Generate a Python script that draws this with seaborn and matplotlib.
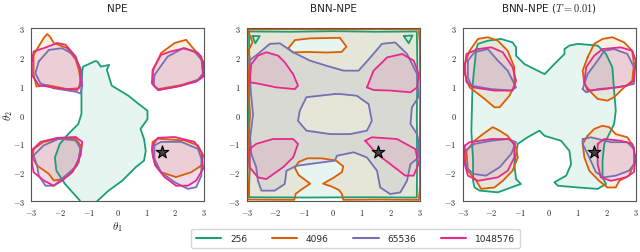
import matplotlib
matplotlib.use('Agg')
import matplotlib.pyplot as plt
from matplotlib.path import Path
from matplotlib.patches import PathPatch
from matplotlib.lines import Line2D
import numpy as np
import pandas as pd
import seaborn as sns

# ---- data: credible-region contours, (theta1, theta2) ----
sizes = ['256', '4096', '65536', '1048576']
titles = ['NPE', 'BNN-NPE', r'BNN-NPE ($T = 0.01$)']
ticks = [-3, -2, -1, 0, 1, 2, 3]
theta_star = (1.56, -1.31)

# NPE
npe_256 = [(-1.22, 1.55), (-1.19, 1.66), (-0.78, 1.85), (-0.70, 1.84), (-0.58, 1.66), (-0.29, 1.72),
           (-0.37, 1.55), (-0.20, 1.00), (0.38, 0.65), (0.74, 0.36), (1.04, 0.13), (1.04, -0.16),
           (0.80, -0.50), (0.92, -0.85), (0.98, -1.26), (0.92, -1.60), (0.63, -1.83), (0.16, -2.30),
           (-0.31, -2.64), (-0.70, -3.00), (-0.80, -3.20), (-1.35, -3.20), (-1.30, -2.99), (-1.82, -2.41),
           (-2.12, -1.95), (-2.17, -1.49), (-2.00, -1.02), (-1.71, -0.68), (-1.36, -0.33), (-1.25, 0.02),
           (-1.25, 1.00)]
npe_4096 = [
    [(-2.91, 2.07), (-2.56, 2.65), (-2.44, 2.79), (-2.35, 2.71), (-2.21, 2.48), (-1.74, 2.30), (-1.45, 1.90),
     (-1.34, 1.55), (-1.28, 1.20), (-1.34, 0.91), (-1.74, 0.88), (-2.44, 1.02), (-2.81, 0.97), (-2.91, 1.37)],
    [(1.22, 1.49), (1.51, 2.13), (1.98, 2.48), (2.38, 2.59), (2.67, 2.24), (2.91, 2.01), (2.97, 1.37),
     (2.79, 1.20), (2.21, 1.02), (1.40, 0.88), (1.19, 1.08)],
    [(-2.91, -1.19), (-2.56, -0.95), (-2.03, -0.84), (-1.45, -0.84), (-1.28, -1.07), (-1.34, -1.65),
     (-1.57, -2.00), (-1.86, -2.23), (-2.21, -2.29), (-2.38, -2.06), (-2.79, -1.77), (-2.94, -1.53)],
    [(1.22, -0.95), (1.40, -0.84), (2.33, -0.90), (2.79, -1.07), (2.97, -1.42), (2.91, -1.77), (2.56, -2.00),
     (2.03, -2.17), (1.51, -2.00), (1.28, -1.65), (1.19, -1.24)],
]
npe_65536 = [
    [(-2.73, 1.84), (-2.38, 2.24), (-1.92, 2.30), (-1.51, 2.07), (-1.28, 1.60), (-1.22, 1.02), (-1.28, 0.73),
     (-1.45, 0.79), (-2.21, 0.91), (-2.67, 1.08), (-2.85, 1.43)],
    [(1.28, 1.37), (1.74, 2.01), (2.27, 2.30), (2.67, 2.19), (2.91, 1.90), (2.97, 1.43), (2.79, 1.20),
     (2.21, 1.00), (1.45, 0.85), (1.26, 1.00)],
    [(-2.91, -1.42), (-2.56, -1.07), (-2.03, -0.84), (-1.45, -0.90), (-1.28, -1.19), (-1.40, -1.77),
     (-1.86, -2.17), (-2.21, -2.47), (-2.50, -2.47), (-2.73, -2.12), (-2.79, -1.77)],
    [(1.28, -1.07), (1.51, -0.95), (2.21, -0.95), (2.79, -1.19), (2.91, -1.53), (2.91, -2.12), (2.73, -2.52),
     (2.44, -2.58), (1.98, -2.35), (1.51, -2.00), (1.28, -1.53)],
]
npe_1048576 = [
    [(-2.97, 1.84), (-2.91, 2.19), (-2.56, 2.30), (-2.09, 2.48), (-1.80, 2.42), (-1.45, 2.01), (-1.30, 1.55),
     (-1.28, 1.02), (-1.40, 0.85), (-2.09, 0.91), (-2.73, 1.02), (-2.97, 1.37)],
    [(1.22, 1.55), (1.51, 2.07), (1.86, 2.19), (2.33, 2.30), (2.79, 2.13), (2.97, 1.84), (2.97, 1.31),
     (2.73, 1.14), (2.09, 0.97), (1.40, 0.85), (1.22, 1.05)],
    [(-2.97, -1.24), (-2.67, -0.95), (-2.09, -0.81), (-1.45, -0.78), (-1.22, -0.95), (-1.28, -1.42),
     (-1.57, -2.00), (-1.92, -2.29), (-2.21, -2.47), (-2.56, -2.29), (-2.91, -2.00), (-2.97, -1.65)],
    [(1.22, -1.07), (1.40, -0.81), (1.98, -0.78), (2.67, -0.95), (2.91, -1.30), (2.97, -1.88), (2.73, -2.29),
     (2.44, -2.47), (2.03, -2.47), (1.63, -2.17), (1.31, -1.77), (1.22, -1.42)],
]

# BNN-NPE
bnn_256 = [(-2.92, 2.88), (-1.50, 2.87), (0.00, 2.89), (1.50, 2.87), (2.90, 2.88), (2.92, 1.50), (2.90, 0.00),
           (2.91, -1.50), (2.90, -2.88), (1.00, -2.87), (-1.00, -2.88), (-2.92, -2.87), (-2.90, -1.50),
           (-2.93, 0.00), (-2.91, 1.50)]
bnn_256_bits = [[(-2.80, 2.72), (-2.55, 2.72), (-2.70, 2.47)],
                [(2.45, 2.72), (2.75, 2.74), (2.62, 2.47)]]
bnn_4096 = [(-2.97, 2.95), (-1.50, 2.96), (0.00, 2.95), (1.50, 2.96), (2.97, 2.95), (3.00, 2.50), (3.02, 1.00),
            (3.00, -1.00), (3.01, -2.50), (2.97, -2.96), (1.50, -2.95), (0.35, -2.96), (0.30, -2.75),
            (0.20, -2.62), (-0.05, -2.50), (-0.35, -2.40), (0.00, -2.20), (0.30, -2.00), (0.35, -1.80),
            (0.10, -1.60), (-0.40, -1.52), (-0.90, -1.52), (-1.20, -1.65), (-1.33, -1.85), (-1.20, -2.10),
            (-0.80, -2.40), (-1.10, -2.60), (-1.30, -2.75), (-1.35, -2.96), (-2.97, -2.95), (-2.90, -2.00),
            (-2.95, -1.00), (-2.88, 0.00), (-2.95, 1.00), (-2.90, 2.00), (-2.95, 2.20), (-2.80, 2.50)]
bnn_4096_hole = [(-1.56, 2.29), (-1.33, 2.58), (-0.81, 2.64), (0.23, 2.66), (0.46, 2.35), (0.29, 2.17),
                 (-0.23, 2.15), (-0.93, 2.17), (-1.39, 2.15)]
bnn_65536 = [(-2.90, 1.88), (-2.61, 2.10), (-2.20, 2.45), (-1.85, 2.47), (-1.39, 2.16), (-0.81, 1.87),
             (-0.23, 1.69), (0.36, 1.52), (0.88, 1.52), (1.29, 1.98), (1.69, 2.45), (2.15, 2.50), (2.56, 2.10),
             (2.91, 1.40), (2.96, 0.60), (2.73, 0.25), (2.68, -0.33), (2.91, -0.68), (2.97, -1.00),
             (2.96, -1.49), (2.68, -1.72), (2.56, -2.30), (2.33, -2.70), (1.98, -2.76), (1.63, -2.53),
             (1.52, -1.95), (1.17, -1.49), (0.71, -1.31), (0.13, -1.43), (0.06, -1.60), (-1.28, -1.78),
             (-1.62, -1.95), (-1.68, -2.41), (-2.03, -2.64), (-2.49, -2.64), (-2.61, -2.30), (-2.67, -1.83),
             (-2.84, -1.37), (-2.88, -0.80), (-2.78, 0.00), (-2.86, 0.80)]
bnn_65536_hole = [(0.06, 0.71), (-0.93, 0.60), (-1.16, 0.13), (-1.22, -0.22), (-0.93, -0.56), (-0.10, -0.68),
                  (0.59, -0.68), (1.17, -0.56), (1.34, -0.22), (1.23, 0.36), (0.82, 0.65), (0.24, 0.71)]
bnn_1048576 = [
    [(-2.90, 1.12), (-2.84, 1.75), (-2.61, 2.04), (-2.32, 2.16), (-1.91, 2.04), (-1.68, 1.81), (-1.39, 1.40),
     (-1.22, 1.00), (-1.33, 0.88), (-1.97, 0.94), (-2.55, 1.06)],
    [(-2.90, -1.20), (-2.67, -1.02), (-2.09, -0.85), (-1.39, -0.85), (-1.22, -1.02), (-1.39, -1.49),
     (-1.74, -1.83), (-2.32, -2.24), (-2.61, -2.18), (-2.90, -1.83)],
    [(1.17, 0.94), (1.40, 1.52), (1.87, 1.98), (2.39, 2.10), (2.79, 1.87), (2.97, 1.40), (2.91, 0.94),
     (2.68, 0.77), (1.98, 0.83), (1.40, 0.85)],
    [(1.11, -0.91), (1.34, -0.79), (2.21, -0.85), (2.85, -1.20), (2.96, -1.72), (2.79, -2.12), (2.50, -2.12),
     (1.98, -1.72), (1.52, -1.37)],
]

# BNN-NPE (T = 0.01)
cold_256 = [(-2.53, 2.27), (-2.47, 2.45), (-2.13, 2.56), (-1.67, 2.62), (-1.27, 2.50), (-1.15, 2.33),
            (-1.15, 2.04), (-0.86, 1.75), (-0.40, 1.52), (-0.16, 1.40), (0.18, 1.75), (0.53, 2.10),
            (0.53, 2.27), (0.70, 2.39), (0.99, 2.45), (1.68, 2.39), (1.97, 2.10), (2.19, 1.64), (2.25, 0.83),
            (2.31, 0.13), (2.25, -0.33), (2.08, -0.68), (1.91, -1.02), (1.85, -1.60), (1.85, -2.18),
            (1.97, -2.41), (1.68, -2.58), (0.99, -2.53), (0.30, -2.47), (0.18, -2.35), (0.59, -2.12),
            (0.76, -1.72), (0.70, -1.26), (0.41, -0.91), (-0.16, -0.74), (-0.34, -0.56), (-0.75, -0.79),
            (-1.09, -1.02), (-1.21, -1.72), (-1.15, -2.24), (-0.98, -2.41), (-1.32, -2.53), (-1.78, -2.70),
            (-2.41, -2.64), (-2.59, -2.53), (-2.64, -2.30), (-2.64, -1.60), (-2.70, -0.56), (-2.66, 1.00)]
cold_4096 = [
    [(-2.93, 1.75), (-2.76, 2.21), (-2.47, 2.62), (-2.13, 2.68), (-1.78, 2.56), (-1.44, 2.21), (-1.21, 1.64),
     (-1.21, 1.00), (-1.38, 0.65), (-1.72, 0.25), (-1.90, 0.25), (-2.24, 0.54), (-2.76, 0.94), (-2.93, 1.40)],
    [(-2.59, -0.91), (-2.30, -0.68), (-1.96, -0.44), (-1.72, -0.56), (-1.44, -0.74), (-1.15, -1.14),
     (-1.09, -1.49), (-1.27, -1.95), (-1.61, -2.30), (-1.90, -2.53), (-2.36, -2.58), (-2.53, -2.30),
     (-2.82, -1.95), (-2.87, -1.26)],
    [(1.33, 1.98), (1.56, 2.45), (1.85, 2.62), (2.19, 2.68), (2.60, 2.50), (2.88, 2.21), (2.94, 1.75),
     (2.88, 1.17), (2.60, 0.94), (2.25, 0.60), (2.02, 0.48), (1.68, 0.54), (1.45, 0.77), (1.22, 1.06),
     (1.16, 1.52)],
    [(1.33, -0.74), (1.56, -0.50), (1.85, -0.39), (2.08, -0.44), (2.31, -0.68), (2.71, -0.79), (2.94, -1.14),
     (2.94, -1.72), (2.77, -2.12), (2.43, -2.30), (2.31, -2.53), (2.02, -2.53), (1.73, -2.30), (1.39, -1.95),
     (1.22, -1.49), (1.16, -1.02)],
]
cold_65536 = [
    [(-2.82, 1.87), (-2.59, 2.16), (-2.13, 2.27), (-1.78, 1.87), (-1.44, 1.52), (-1.15, 0.94), (-1.32, 0.83),
     (-2.01, 0.88), (-2.70, 1.00), (-2.82, 1.29)],
    [(-2.93, -1.26), (-2.59, -1.02), (-2.01, -0.91), (-1.44, -0.85), (-1.15, -0.96), (-1.32, -1.37),
     (-1.72, -1.83), (-2.19, -2.12), (-2.64, -2.06), (-2.87, -1.83), (-2.93, -1.49)],
    [(1.16, 0.88), (1.33, 1.40), (1.68, 1.87), (1.91, 2.21), (2.25, 2.27), (2.71, 2.10), (2.94, 1.64),
     (2.94, 1.06), (2.37, 0.94), (1.68, 0.88), (1.28, 0.77)],
    [(1.16, -0.85), (1.45, -0.79), (2.14, -0.96), (2.71, -0.96), (2.94, -1.20), (2.94, -1.72), (2.77, -1.95),
     (2.31, -2.12), (1.91, -2.18), (1.62, -2.00), (1.39, -1.49), (1.16, -1.02)],
]
cold_1048576 = [
    [(-2.93, 1.64), (-2.87, 2.10), (-2.47, 2.27), (-2.01, 2.33), (-1.61, 2.16), (-1.27, 1.64), (-1.15, 1.17),
     (-1.27, 0.83), (-1.90, 0.83), (-2.64, 0.94), (-2.87, 1.12)],
    [(-2.93, -1.08), (-2.76, -0.96), (-2.01, -0.85), (-1.38, -0.85), (-1.21, -1.02), (-1.21, -1.49),
     (-1.44, -1.95), (-1.78, -2.18), (-2.47, -2.30), (-2.82, -2.12), (-2.93, -1.72)],
    [(1.22, 1.12), (1.28, 1.64), (1.56, 2.04), (1.85, 2.27), (2.48, 2.33), (2.88, 2.21), (3.00, 1.87),
     (2.94, 1.17), (2.71, 1.00), (1.91, 0.88), (1.33, 0.83)],
    [(1.68, -1.02), (1.91, -0.85), (2.48, -0.91), (2.88, -1.02), (3.00, -1.49), (2.94, -2.00), (2.66, -2.18),
     (2.14, -2.30), (1.79, -2.18), (1.68, -1.72)],
]

# regions per panel: size -> list of (outline, holes)
panels = [
    {'256': [(npe_256, [])],
     '4096': [(p, []) for p in npe_4096],
     '65536': [(p, []) for p in npe_65536],
     '1048576': [(p, []) for p in npe_1048576]},
    {'256': [(bnn_256, [])],
     '4096': [(bnn_4096, [bnn_4096_hole])],
     '65536': [(bnn_65536, [bnn_65536_hole])],
     '1048576': [(p, []) for p in bnn_1048576]},
    {'256': [(cold_256, [])],
     '4096': [(p, []) for p in cold_4096],
     '65536': [(p, []) for p in cold_65536],
     '1048576': [(p, []) for p in cold_1048576]},
]
extra_lines = [[], [('256', p) for p in bnn_256_bits], []]

palette = dict(zip(sizes, sns.color_palette('Dark2', 4)))


def signed_area(pts):
    a = np.asarray(pts)
    return 0.5 * np.sum(a[:, 0] * np.roll(a[:, 1], -1) - np.roll(a[:, 0], -1) * a[:, 1])


def region_patch(outline, holes, color):
    # outer ring counter-clockwise, holes clockwise, so holes stay unfilled
    verts, codes = [], []
    for i, ring in enumerate([outline] + holes):
        ring = list(ring)
        ccw = signed_area(ring) > 0
        if (i == 0 and not ccw) or (i > 0 and ccw):
            ring = ring[::-1]
        verts += ring + [ring[0]]
        codes += [Path.MOVETO] + [Path.LINETO] * (len(ring) - 1) + [Path.CLOSEPOLY]
    return PathPatch(Path(verts, codes), facecolor=color, alpha=0.1, lw=0)


def outline(ax, pts, color):
    df = pd.DataFrame(list(pts) + [pts[0]], columns=['t1', 't2'])
    sns.lineplot(data=df, x='t1', y='t2', sort=False, estimator=None, color=color,
                 lw=1.3, ax=ax, legend=False)


sns.set_style('white')
plt.rcParams['font.family'] = ['DejaVu Sans']
plt.rcParams['mathtext.fontset'] = 'cm'

fig = plt.figure(figsize=(6.4, 2.53), dpi=100)
lefts = [31 / 640, 246.7 / 640, 462.7 / 640]
for k in range(3):
    ax = fig.add_axes([lefts[k], 51 / 253, 173 / 640, 173 / 253])
    regions = panels[k]
    for s in sizes:
        for out, holes in regions[s]:
            ax.add_patch(region_patch(out, holes, palette[s]))
    for s in sizes:
        for out, holes in regions[s]:
            outline(ax, out, palette[s])
            for h in holes:
                outline(ax, h, palette[s])
        for s2, p in extra_lines[k]:
            if s2 == s:
                outline(ax, p, palette[s])
    ax.scatter([theta_star[0]], [theta_star[1]], marker='*', s=90, facecolor='#444444',
               edgecolor='black', lw=0.8, zorder=10)
    ax.set_xlim(-3, 3)
    ax.set_ylim(-3, 3)
    ax.set_xticks(ticks)
    ax.set_yticks(ticks)
    ax.set_xticklabels([f'${t}$' for t in ticks], fontsize=6)
    ax.set_yticklabels([f'${t}$' for t in ticks], fontsize=6)
    ax.tick_params(length=2.5, width=0.6, pad=2, color='#444444')
    for sp in ax.spines.values():
        sp.set_color('#555555')
        sp.set_linewidth(0.8)
    ax.set_title(titles[k], fontsize=7.5, pad=12.5)
    if k == 0:
        ax.set_xlabel(r'$\theta_1$', fontsize=8)
        ax.set_ylabel(r'$\theta_2$', fontsize=8)
        ax.xaxis.set_label_coords(0.5, -0.105)
        ax.yaxis.set_label_coords(-0.09, 0.5)
    else:
        ax.set_xlabel('')
        ax.set_ylabel('')

handles = [Line2D([], [], color=palette[s], lw=1.5) for s in sizes]
fig.legend(handles, sizes, loc='center', bbox_to_anchor=(355.5 / 640, 13.5 / 253), ncol=4,
           fontsize=6.5, handlelength=2.8, handletextpad=1.0, columnspacing=2.7,
           frameon=True, borderpad=0.5)

fig.savefig('out.png', dpi=100)
